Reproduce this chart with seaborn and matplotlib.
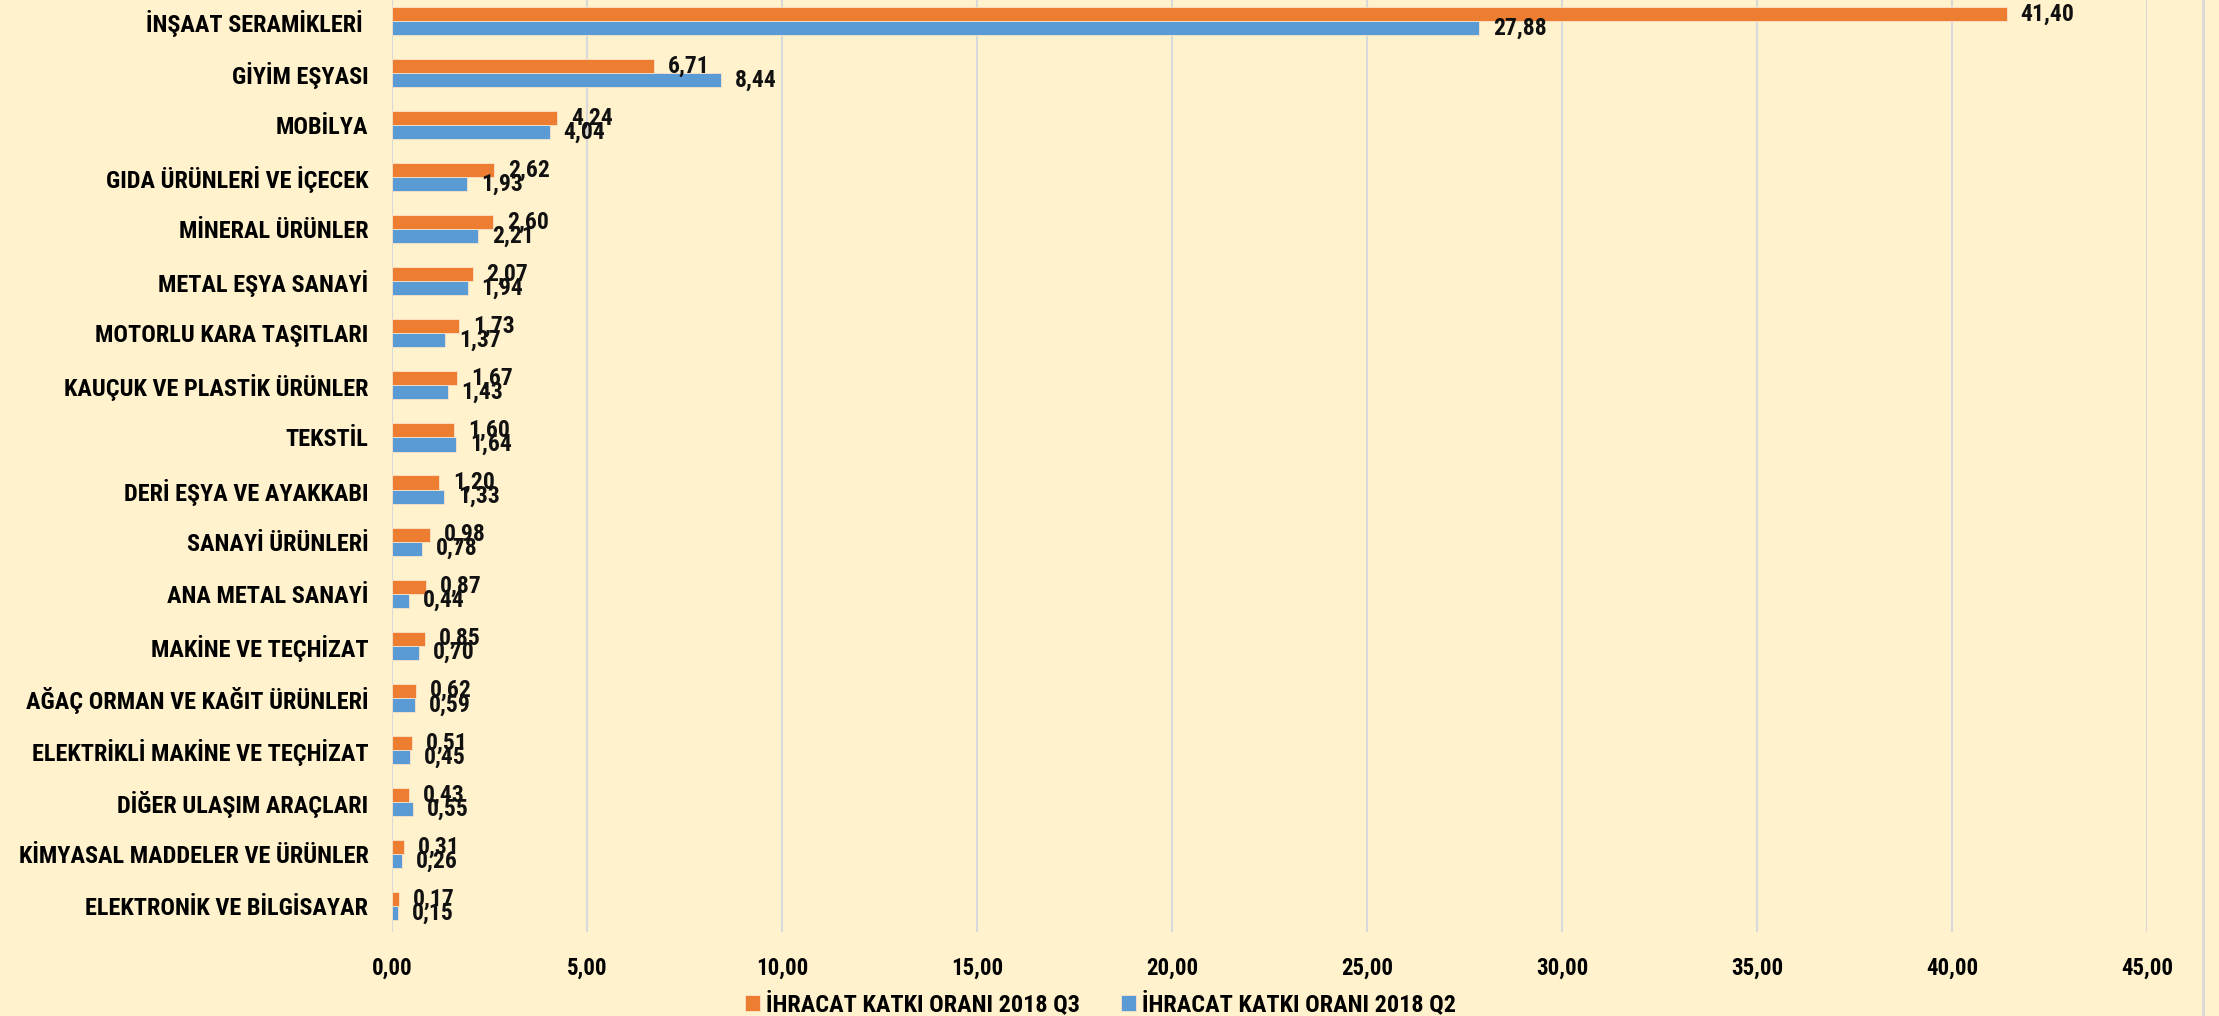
import matplotlib
matplotlib.use("Agg")
import matplotlib.pyplot as plt
import seaborn as sns
import pandas as pd
from matplotlib.ticker import FuncFormatter

# ----------------------------
# Data
# ----------------------------
categories = [
    "İNŞAAT SERAMİKLERİ ", "GİYİM EŞYASI", "MOBİLYA", "GIDA ÜRÜNLERİ VE İÇECEK",
    "MİNERAL ÜRÜNLER", "METAL EŞYA SANAYİ", "MOTORLU KARA TAŞITLARI",
    "KAUÇUK VE PLASTİK ÜRÜNLER", "TEKSTİL", "DERİ EŞYA VE AYAKKABI",
    "SANAYİ ÜRÜNLERİ", "ANA METAL SANAYİ", "MAKİNE VE TEÇHİZAT",
    "AĞAÇ ORMAN VE KAĞIT ÜRÜNLERİ", "ELEKTRİKLİ MAKİNE VE TEÇHİZAT",
    "DİĞER ULAŞIM ARAÇLARI", "KİMYASAL MADDELER VE ÜRÜNLER", "ELEKTRONİK VE BİLGİSAYAR",
]
q3_values = [41.40, 6.71, 4.24, 2.62, 2.60, 2.07, 1.73, 1.67, 1.60, 1.20,
             0.98, 0.87, 0.85, 0.62, 0.51, 0.43, 0.31, 0.17]
q2_values = [27.88, 8.44, 4.04, 1.93, 2.21, 1.94, 1.37, 1.43, 1.64, 1.33,
             0.78, 0.44, 0.70, 0.59, 0.45, 0.55, 0.26, 0.15]
series_names = ["İHRACAT KATKI ORANI 2018 Q3", "İHRACAT KATKI ORANI 2018 Q2"]
x_ticks = [0, 5, 10, 15, 20, 25, 30, 35, 40, 45]

df = pd.DataFrame({
    "kategori": categories * 2,
    "deger": q3_values + q2_values,
    "seri": [series_names[0]] * len(categories) + [series_names[1]] * len(categories),
})

# ----------------------------
# Style
# ----------------------------
bg = "#FFF2CC"
sns.set_style("white")
plt.rcParams["font.family"] = ["Roboto Condensed", "Lato", "DejaVu Sans"]
plt.rcParams["font.weight"] = "bold"
plt.rcParams["text.color"] = "#000000"

fig = plt.figure(figsize=(22.19, 10.16), dpi=100, facecolor=bg)
ax = fig.add_axes([392 / 2219, 84 / 1016, 1755 / 2219, 937 / 1016])
ax.set_facecolor(bg)

sns.barplot(data=df, y="kategori", x="deger", hue="seri", hue_order=series_names,
            palette=["#ED7D31", "#5B9BD5"], saturation=1, orient="h", width=0.54,
            edgecolor="#FBE3C8", linewidth=0.6, ax=ax, legend=True)

ax.set_xlim(0, 45)
ax.set_ylim(len(categories) - 0.5, -0.5)
ax.set_xticks(x_ticks)
ax.xaxis.set_major_formatter(FuncFormatter(lambda v, p: f"{v:.2f}".replace(".", ",")))
ax.grid(axis="x", color="#D9D9D9", linewidth=1.5)
ax.set_axisbelow(True)
for s in ax.spines.values():
    s.set_visible(False)
ax.tick_params(axis="both", length=0, labelcolor="#000000")
ax.tick_params(axis="y", pad=17, labelsize=17.5)
ax.tick_params(axis="x", pad=18, labelsize=16.5)
for t in ax.get_xticklabels() + ax.get_yticklabels():
    t.set_fontweight("bold")
ax.set_xlabel("")
ax.set_ylabel("")

# value labels
for cont in ax.containers:
    ax.bar_label(cont, labels=[f"{v:.2f}".replace(".", ",") for v in cont.datavalues],
                 padding=10, fontsize=17, fontweight="bold", color="#111111")

# legend
handles, labels = ax.get_legend_handles_labels()
ax.get_legend().remove()
fig.legend(handles, labels, loc="lower center", bbox_to_anchor=(0.496, -0.022), ncol=2,
           frameon=False, handlelength=0.6, handleheight=0.6,
           handletextpad=0.25, columnspacing=1.7, prop={"weight": "bold", "size": 17.5})

# chart area right edge line
fig.add_artist(plt.Line2D([2203 / 2219, 2203 / 2219], [0, 1], color="#D9D9D9", lw=2))

fig.savefig("out.png", dpi=100, facecolor=bg)
